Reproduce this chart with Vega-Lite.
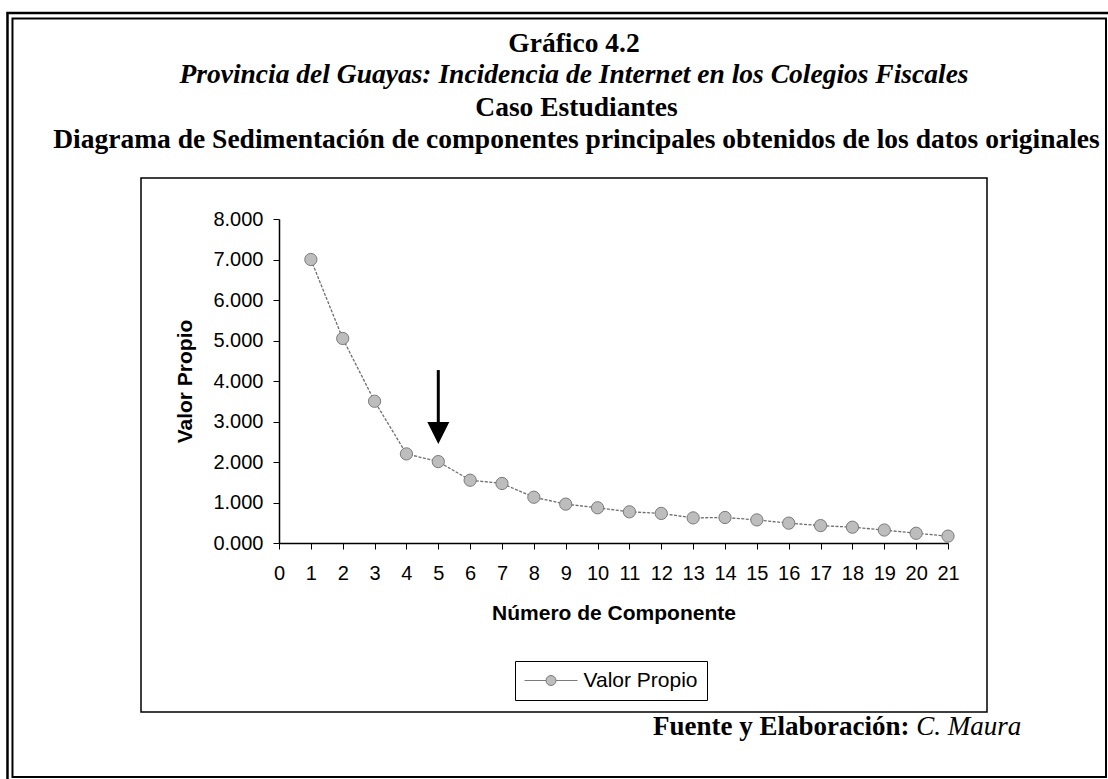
{
  "$schema": "https://vega.github.io/schema/vega-lite/v6.json",
  "width": 846,
  "height": 534,
  "autosize": {"type": "none"},
  "padding": {"left": 141, "top": 178, "right": 121, "bottom": 67},
  "background": "white",
  "config": {
    "view": {"stroke": "black", "strokeWidth": 1.5},
    "axis": {"grid": false}
  },
  "title": {
    "text": "Gráfico 4.2",
    "subtitle": "Provincia del Guayas: Incidencia de Internet en los Colegios Fiscales",
    "anchor": "middle",
    "frame": "group",
    "dx": 10,
    "offset": -77,
    "font": "Liberation Serif",
    "fontSize": 27.5,
    "fontWeight": "bold",
    "color": "black",
    "subtitleFont": "Liberation Serif",
    "subtitleFontSize": 27.5,
    "subtitleFontWeight": "bold",
    "subtitleFontStyle": "italic",
    "subtitleColor": "black",
    "subtitlePadding": 4
  },
  "datasets": {
    "eigen": [
      {"componente": 1, "valor": 7.0},
      {"componente": 2, "valor": 5.05},
      {"componente": 3, "valor": 3.5},
      {"componente": 4, "valor": 2.2},
      {"componente": 5, "valor": 2.01},
      {"componente": 6, "valor": 1.55},
      {"componente": 7, "valor": 1.47},
      {"componente": 8, "valor": 1.13},
      {"componente": 9, "valor": 0.96},
      {"componente": 10, "valor": 0.87},
      {"componente": 11, "valor": 0.77},
      {"componente": 12, "valor": 0.73},
      {"componente": 13, "valor": 0.62},
      {"componente": 14, "valor": 0.63},
      {"componente": 15, "valor": 0.57},
      {"componente": 16, "valor": 0.49},
      {"componente": 17, "valor": 0.43},
      {"componente": 18, "valor": 0.39},
      {"componente": 19, "valor": 0.32},
      {"componente": 20, "valor": 0.24},
      {"componente": 21, "valor": 0.17}
    ],
    "flecha": [
      {"componente": 5, "desde": 4.27, "hasta": 2.91, "punta": 2.716}
    ],
    "uno": [{}]
  },
  "resolve": {"axis": {"x": "independent", "y": "independent"}},
  "layer": [
    {
      "data": {"name": "eigen"},
      "mark": {"type": "line", "color": "#6e6e6e", "strokeWidth": 1.3, "strokeDash": [3, 1.5]},
      "encoding": {
        "x": {
          "field": "componente",
          "type": "quantitative",
          "scale": {"domain": [0, 21], "range": [138, 807], "nice": false, "zero": false},
          "axis": {
            "orient": "bottom",
            "title": "Número de Componente",
            "values": [0, 1, 2, 3, 4, 5, 6, 7, 8, 9, 10, 11, 12, 13, 14, 15, 16, 17, 18, 19, 20, 21],
            "format": "d",
            "offset": -169,
            "labelFlush": false,
            "labelOverlap": false,
            "tickSize": 6,
            "tickColor": "black",
            "domainColor": "black",
            "domainWidth": 1.5,
            "labelPadding": 14,
            "labelFont": "Liberation Sans",
            "labelFontSize": 20,
            "labelColor": "black",
            "titleFont": "Liberation Sans",
            "titleFontSize": 21,
            "titleFontWeight": "bold",
            "titleColor": "black",
            "titlePadding": 19
          }
        },
        "y": {
          "field": "valor",
          "type": "quantitative",
          "scale": {"domain": [0, 8], "range": [365, 41], "nice": false, "zero": false},
          "axis": {
            "orient": "left",
            "title": "Valor Propio",
            "values": [0, 1, 2, 3, 4, 5, 6, 7, 8],
            "format": ".3f",
            "offset": -138,
            "tickSize": 6,
            "tickColor": "black",
            "domainColor": "black",
            "domainWidth": 1.5,
            "labelPadding": 10,
            "labelFont": "Liberation Sans",
            "labelFontSize": 20,
            "labelColor": "black",
            "titleFont": "Liberation Sans",
            "titleFontSize": 21,
            "titleFontWeight": "bold",
            "titleColor": "black",
            "titlePadding": 17
          }
        }
      }
    },
    {
      "data": {"name": "uno"},
      "mark": {"type": "rect", "fill": "transparent", "stroke": "black", "strokeWidth": 2.5},
      "encoding": {
        "x": {"datum": -8.523, "type": "quantitative", "axis": null},
        "x2": {"datum": 26.148},
        "y": {"datum": 13.086, "type": "quantitative", "axis": null},
        "y2": {"datum": -5.951}
      }
    },
    {
      "data": {"name": "uno"},
      "mark": {"type": "rect", "fill": "transparent", "stroke": "black", "strokeWidth": 2},
      "encoding": {
        "x": {"datum": -8.366, "type": "quantitative", "axis": null},
        "x2": {"datum": 25.96},
        "y": {"datum": 12.951, "type": "quantitative", "axis": null},
        "y2": {"datum": -5.778}
      }
    },
    {
      "data": {"name": "eigen"},
      "mark": {"type": "point", "shape": "circle", "filled": true, "size": 150, "stroke": "#7a7a7a", "strokeWidth": 1, "opacity": 1},
      "encoding": {
        "x": {"field": "componente", "type": "quantitative", "axis": null},
        "y": {"field": "valor", "type": "quantitative", "axis": null},
        "color": {
          "datum": "Valor Propio",
          "scale": {"range": ["#bdbdbd"]},
          "legend": {
            "orient": "none",
            "legendX": 374,
            "legendY": 483,
            "title": null,
            "strokeColor": "black",
            "padding": 9,
            "symbolType": "M-2.65,0H-0.5M0.5,0H2.65M-0.5,0A0.5,0.5 0 1,0 0.5,0A0.5,0.5 0 1,0 -0.5,0Z",
            "symbolSize": 400,
            "symbolOffset": 16.5,
            "symbolStrokeWidth": 1,
            "labelFont": "Liberation Sans",
            "labelFontSize": 21,
            "labelColor": "black",
            "labelOffset": 22,
            "encode": {
              "symbols": {
                "update": {
                  "stroke": {"value": "#6e6e6e"},
                  "strokeWidth": {"value": 1},
                  "fill": {"value": "#bdbdbd"},
                  "opacity": {"value": 1}
                }
              }
            }
          }
        }
      }
    },
    {
      "data": {"name": "flecha"},
      "mark": {"type": "rule", "color": "black", "strokeWidth": 3},
      "encoding": {
        "x": {
          "field": "componente",
          "type": "quantitative",
          "axis": {
            "orient": "top",
            "title": ["Caso Estudiantes", "Diagrama de Sedimentación de componentes principales obtenidos de los datos originales"],
            "labels": false,
            "ticks": false,
            "domain": false,
            "titleFont": "Liberation Serif",
            "titleFontSize": 27.5,
            "titleFontWeight": "bold",
            "titleColor": "black",
            "titleLineHeight": 32,
            "titleX": 435,
            "titleY": -63,
            "titleBaseline": "alphabetic",
            "titleAlign": "center",
            "titleAngle": 0,
            "titleLimit": 3000
          }
        },
        "y": {"field": "desde", "type": "quantitative", "axis": null},
        "y2": {"field": "hasta"}
      }
    },
    {
      "data": {"name": "flecha"},
      "mark": {"type": "point", "shape": "M-1,-1L1,-1L0,1Z", "size": 484, "filled": true, "color": "black", "opacity": 1},
      "encoding": {
        "x": {"field": "componente", "type": "quantitative", "axis": null},
        "y": {"field": "punta", "type": "quantitative", "axis": null}
      }
    },
    {
      "data": {"name": "uno"},
      "mark": {"type": "text", "text": "Fuente y Elaboración:", "font": "Liberation Serif", "fontSize": 27, "fontWeight": "bold", "align": "right", "baseline": "alphabetic", "color": "black"},
      "encoding": {
        "x": {"datum": 19.79, "type": "quantitative", "axis": null},
        "y": {"datum": -4.741, "type": "quantitative", "axis": null}
      }
    },
    {
      "data": {"name": "uno"},
      "mark": {"type": "text", "text": "C. Maura", "font": "Liberation Serif", "fontSize": 27, "fontStyle": "italic", "align": "left", "baseline": "alphabetic", "color": "black"},
      "encoding": {
        "x": {"datum": 20.0, "type": "quantitative", "axis": null},
        "y": {"datum": -4.741, "type": "quantitative", "axis": null}
      }
    }
  ]
}
